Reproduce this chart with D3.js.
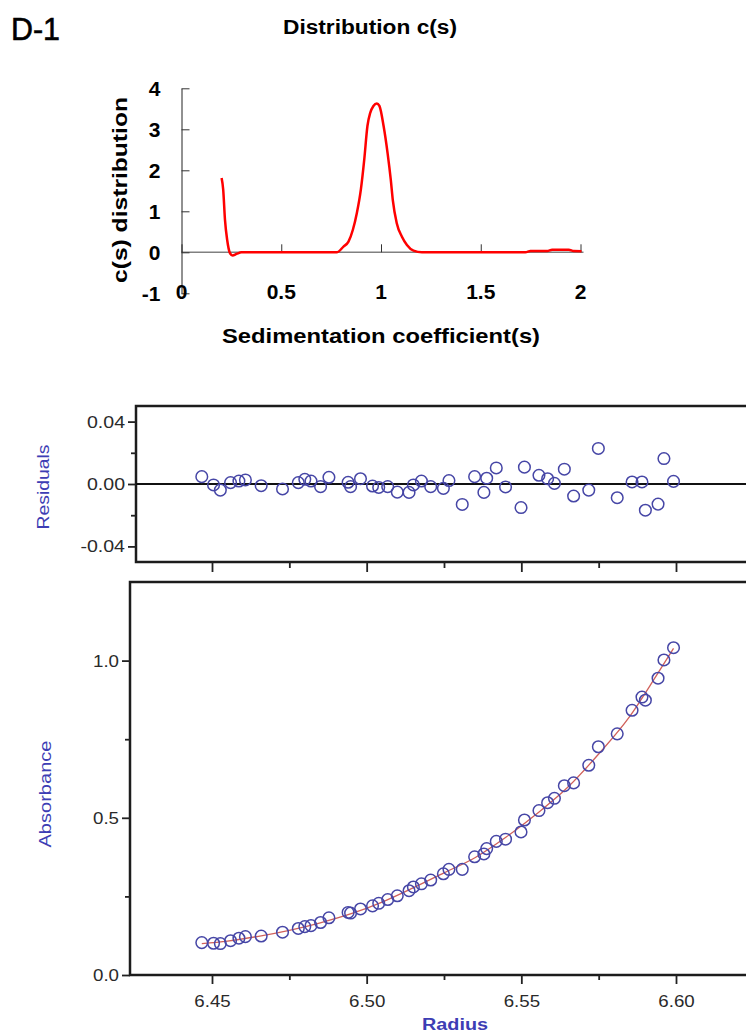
<!DOCTYPE html>
<html>
<head>
<meta charset="utf-8">
<script src="https://cdn.jsdelivr.net/npm/d3@7"></script>
<style>body{margin:0;background:#fff}</style>
</head>
<body>
<svg id="chart"></svg>
<script>
// ---- top panel: c(s) distribution ----
const sedCoef = [0.201, 0.209, 0.218, 0.229, 0.243, 0.256, 0.276, 0.301, 0.778, 0.812, 0.837, 0.859, 0.879, 0.899, 0.916, 0.932, 0.946, 0.962, 0.979, 0.992, 1.013, 1.033, 1.049, 1.059, 1.079, 1.105, 1.130, 1.163, 1.205, 1.724, 1.749, 1.833, 1.858, 1.941, 1.966, 2.005]
const csValue = [1.81, 1.53, 0.79, 0.30, -0.02, -0.08, -0.04, 0, 0, 0.14, 0.26, 0.55, 0.96, 1.53, 2.26, 3.08, 3.40, 3.57, 3.63, 3.57, 3.08, 2.42, 1.77, 1.28, 0.71, 0.38, 0.18, 0.04, 0, 0, 0.03, 0.03, 0.065, 0.065, 0.03, 0.025]
const csXTicks = [0, 0.5, 1, 1.5, 2]
const csXLabels = ['0', '0.5', '1', '1.5', '2']
const csYTicks = [-1, 0, 1, 2, 3, 4]
const csYLabels = ['-1', '0', '1', '2', '3', '4']

// ---- bottom panels: residuals and absorbance vs radius ----
const radius = [6.4467, 6.4505, 6.4527, 6.4560, 6.4587, 6.4608, 6.4659, 6.4728, 6.4779, 6.4800, 6.4820, 6.4851, 6.4878, 6.4940, 6.4948, 6.4980, 6.5019, 6.5039, 6.5068, 6.5099, 6.5137, 6.5151, 6.5177, 6.5207, 6.5248, 6.5266, 6.5309, 6.5349, 6.5379, 6.5388, 6.5419, 6.5449, 6.5499, 6.5510, 6.5557, 6.5585, 6.5607, 6.5639, 6.5669, 6.5718, 6.5749, 6.5810, 6.5858, 6.5890, 6.5901, 6.5942, 6.5961, 6.5992]
const absorbance = [0.103, 0.101, 0.100, 0.109, 0.117, 0.122, 0.124, 0.136, 0.148, 0.154, 0.157, 0.167, 0.182, 0.199, 0.197, 0.210, 0.220, 0.228, 0.240, 0.252, 0.268, 0.280, 0.290, 0.302, 0.322, 0.336, 0.336, 0.376, 0.385, 0.402, 0.425, 0.432, 0.455, 0.493, 0.523, 0.548, 0.562, 0.602, 0.611, 0.667, 0.726, 0.767, 0.842, 0.884, 0.874, 0.944, 1.002, 1.041]
const residual = [0.0047, -0.0006, -0.0039, 0.0009, 0.0019, 0.0026, -0.0011, -0.0032, 0.0009, 0.003, 0.0019, -0.0017, 0.0043, 0.0011, -0.0017, 0.0034, -0.0013, -0.0022, -0.0017, -0.0052, -0.0054, -0.0006, 0.0019, -0.0017, -0.0028, 0.0022, -0.0131, 0.0047, -0.0054, 0.0037, 0.0103, -0.0019, -0.0151, 0.0108, 0.0056, 0.0034, 0.0004, 0.0095, -0.0077, -0.0039, 0.0228, -0.0088, 0.0013, 0.0013, -0.0168, -0.0129, 0.0163, 0.0017]
const fitRadius = [6.4467, 6.455, 6.465, 6.475, 6.485, 6.495, 6.505, 6.515, 6.525, 6.535, 6.545, 6.555, 6.565, 6.575, 6.585, 6.5935, 6.5992]
const fitAbs = [0.100, 0.108, 0.123, 0.142, 0.166, 0.195, 0.232, 0.277, 0.325, 0.373, 0.438, 0.513, 0.597, 0.703, 0.822, 0.950, 1.039]
const radiusTicks = [6.45, 6.50, 6.55, 6.60]
const radiusLabels = ['6.45', '6.50', '6.55', '6.60']
const radiusMinor = [6.475, 6.525, 6.575]
const resTicks = [-0.04, 0, 0.04]
const resLabels = ['-0.04', '0.00', '0.04']
const resMinor = [-0.02, 0.02]
const absTicks = [0, 0.5, 1.0]
const absLabels = ['0.0', '0.5', '1.0']
const absMinor = [0.25, 0.75]

const W = 746
const H = 1032
const FONT = 'Liberation Sans, Arial, sans-serif'
const blue = '#3d3db4'

const svg = d3.select('#chart').attr('width', W).attr('height', H)
svg.append('rect').attr('width', W).attr('height', H).attr('fill', '#fff')

// widen text a bit, the source figure is drawn with wide lettering
function stretch(sel, k) {
  sel.each(function () {
    const w = this.getComputedTextLength()
    this.setAttribute('textLength', w * k)
    this.setAttribute('lengthAdjust', 'spacingAndGlyphs')
  })
}

// ================= top chart =================
const xs = d3.scaleLinear().domain([0, 2]).range([181.5, 580.5])
const ys = d3.scaleLinear().domain([-1, 4]).range([293.3, 88.3])

const topG = svg.append('g').attr('font-family', FONT).attr('font-weight', 'bold')

topG.append('text')
  .attr('x', 11).attr('y', 39.5)
  .attr('font-size', 31)
  .attr('font-weight', 'normal')
  .attr('stroke', '#000').attr('stroke-width', 0.6)
  .attr('textLength', 49).attr('lengthAdjust', 'spacingAndGlyphs')
  .text('D-1')

topG.append('text')
  .attr('x', 370).attr('y', 34)
  .attr('text-anchor', 'middle')
  .attr('font-size', 20)
  .attr('textLength', 174).attr('lengthAdjust', 'spacingAndGlyphs')
  .text('Distribution c(s)')

// zero line
topG.append('line')
  .attr('x1', xs(0)).attr('x2', xs(2.015))
  .attr('y1', ys(0)).attr('y2', ys(0))
  .attr('stroke', '#808080').attr('stroke-width', 1.6)

const gx = topG.append('g')
  .attr('transform', 'translate(0,' + ys(0) + ')')
  .call(d3.axisBottom(xs).tickValues(csXTicks).tickSizeInner(-8).tickSizeOuter(0).tickFormat(''))
gx.select('.domain').remove()
gx.selectAll('line').attr('stroke', '#333')

const gy = topG.append('g')
  .attr('transform', 'translate(' + xs(0) + ',0)')
  .call(d3.axisLeft(ys).tickValues(csYTicks).tickSizeInner(-8).tickSizeOuter(0).tickPadding(21)
    .tickFormat((d, i) => csYLabels[i]))
gy.attr('font-family', FONT).attr('font-size', 21)
gy.select('.domain').attr('stroke', '#222')
gy.selectAll('line').attr('stroke', '#333')
gy.selectAll('text').attr('fill', '#000')

topG.selectAll('.xlab')
  .data(csXTicks)
  .enter()
  .append('text')
  .attr('class', 'xlab')
  .attr('x', d => xs(d))
  .attr('y', 299)
  .attr('text-anchor', 'middle')
  .attr('font-size', 21)
  .text((d, i) => csXLabels[i])

topG.append('text')
  .attr('x', 381).attr('y', 343)
  .attr('text-anchor', 'middle')
  .attr('font-size', 21)
  .attr('textLength', 318).attr('lengthAdjust', 'spacingAndGlyphs')
  .text('Sedimentation coefficient(s)')

topG.append('text')
  .attr('transform', 'translate(127,190) rotate(-90)')
  .attr('text-anchor', 'middle')
  .attr('font-size', 21)
  .attr('textLength', 186).attr('lengthAdjust', 'spacingAndGlyphs')
  .text('c(s) distribution')

const csLine = d3.line()
  .x((d, i) => xs(sedCoef[i]))
  .y(d => ys(d))
  .curve(d3.curveMonotoneX)

topG.append('path')
  .attr('d', csLine(csValue))
  .attr('fill', 'none')
  .attr('stroke', '#ff0000')
  .attr('stroke-width', 2.5)

// ================= residuals + absorbance =================
const xr = d3.scaleLinear().domain([6.45, 6.60]).range([212, 676])
const yRes = d3.scaleLinear().domain([-0.05, 0.05]).range([562, 406])
const yAbs = d3.scaleLinear().domain([0, 1.25]).range([975, 582])

const bot = svg.append('g').attr('font-family', FONT)

function styleAxis(g, size) {
  g.attr('font-family', FONT).attr('font-size', size)
  g.select('.domain').remove()
  g.selectAll('line').attr('stroke', '#222').attr('stroke-width', 1.8)
  g.selectAll('text').attr('fill', '#2a2a2a')
}

// residual frame
bot.append('path')
  .attr('d', 'M760,' + yRes(0.05) + 'H136V' + yRes(-0.05) + 'H760')
  .attr('fill', 'none').attr('stroke', '#1c1c1c').attr('stroke-width', 2.5)

bot.append('line')
  .attr('x1', 136).attr('x2', W)
  .attr('y1', yRes(0)).attr('y2', yRes(0))
  .attr('stroke', '#111').attr('stroke-width', 2)

bot.append('g').attr('transform', 'translate(136,0)')
  .call(d3.axisLeft(yRes).tickValues(resTicks).tickSize(8).tickPadding(3).tickFormat((d, i) => resLabels[i]))
  .call(g => styleAxis(g, 17))
  .call(g => stretch(g.selectAll('text'), 1.15))
bot.append('g').attr('transform', 'translate(136,0)')
  .call(d3.axisLeft(yRes).tickValues(resMinor).tickSize(5).tickFormat(''))
  .call(g => styleAxis(g, 17))
bot.append('g').attr('transform', 'translate(0,' + yRes(-0.05) + ')')
  .call(d3.axisBottom(xr).tickValues(radiusTicks).tickSize(10).tickFormat(''))
  .call(g => styleAxis(g, 17))
bot.append('g').attr('transform', 'translate(0,' + yRes(-0.05) + ')')
  .call(d3.axisBottom(xr).tickValues(radiusMinor).tickSize(6).tickFormat(''))
  .call(g => styleAxis(g, 17))

bot.append('g')
  .selectAll('circle')
  .data(residual)
  .enter()
  .append('circle')
  .attr('cx', (d, i) => xr(radius[i]))
  .attr('cy', d => yRes(d))
  .attr('r', 5.8)
  .attr('fill', 'none')
  .attr('stroke', '#4646a6')
  .attr('stroke-width', 1.5)

bot.append('text')
  .attr('transform', 'translate(49,487) rotate(-90)')
  .attr('text-anchor', 'middle')
  .attr('font-size', 17)
  .attr('fill', blue)
  .attr('textLength', 85).attr('lengthAdjust', 'spacingAndGlyphs')
  .text('Residuals')

// absorbance frame
bot.append('path')
  .attr('d', 'M760,' + yAbs(1.25) + 'H130V' + yAbs(0) + 'H760')
  .attr('fill', 'none').attr('stroke', '#1c1c1c').attr('stroke-width', 2.5)

bot.append('g').attr('transform', 'translate(130,0)')
  .call(d3.axisLeft(yAbs).tickValues(absTicks).tickSize(8).tickPadding(3).tickFormat((d, i) => absLabels[i]))
  .call(g => styleAxis(g, 17))
  .call(g => stretch(g.selectAll('text'), 1.1))
bot.append('g').attr('transform', 'translate(130,0)')
  .call(d3.axisLeft(yAbs).tickValues(absMinor).tickSize(5).tickFormat(''))
  .call(g => styleAxis(g, 17))
bot.append('g').attr('transform', 'translate(0,' + yAbs(0) + ')')
  .call(d3.axisBottom(xr).tickValues(radiusTicks).tickSize(9).tickPadding(11).tickFormat((d, i) => radiusLabels[i]))
  .call(g => styleAxis(g, 17))
  .call(g => stretch(g.selectAll('text'), 1.1))
bot.append('g').attr('transform', 'translate(0,' + yAbs(0) + ')')
  .call(d3.axisBottom(xr).tickValues(radiusMinor).tickSize(5).tickFormat(''))
  .call(g => styleAxis(g, 17))

const fitLine = d3.line()
  .x((d, i) => xr(fitRadius[i]))
  .y(d => yAbs(d))
  .curve(d3.curveMonotoneX)

bot.append('path')
  .attr('d', fitLine(fitAbs))
  .attr('fill', 'none')
  .attr('stroke', '#d0605a')
  .attr('stroke-width', 1.3)

bot.append('g')
  .selectAll('circle')
  .data(absorbance)
  .enter()
  .append('circle')
  .attr('cx', (d, i) => xr(radius[i]))
  .attr('cy', d => yAbs(d))
  .attr('r', 5.8)
  .attr('fill', 'none')
  .attr('stroke', '#4646a6')
  .attr('stroke-width', 1.5)

bot.append('text')
  .attr('transform', 'translate(51,794) rotate(-90)')
  .attr('text-anchor', 'middle')
  .attr('font-size', 17)
  .attr('fill', blue)
  .attr('textLength', 107).attr('lengthAdjust', 'spacingAndGlyphs')
  .text('Absorbance')

bot.append('text')
  .attr('x', 455).attr('y', 1030)
  .attr('text-anchor', 'middle')
  .attr('font-size', 16)
  .attr('font-weight', 'bold')
  .attr('fill', blue)
  .attr('textLength', 66).attr('lengthAdjust', 'spacingAndGlyphs')
  .text('Radius')
</script>
</body>
</html>
